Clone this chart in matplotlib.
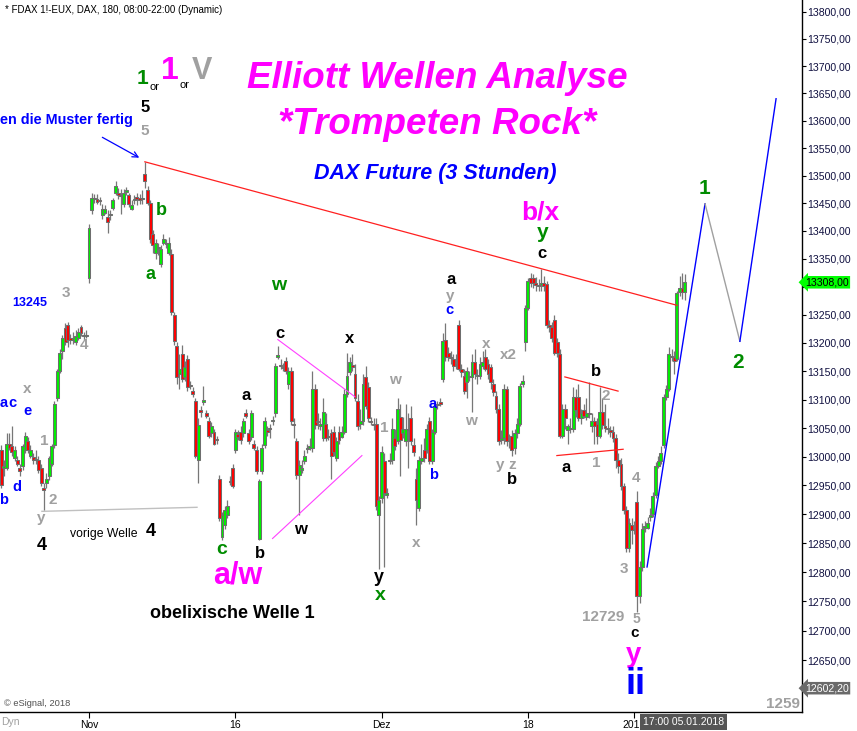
import numpy as np
import matplotlib
matplotlib.use("Agg")
import matplotlib.pyplot as plt
from matplotlib.ticker import FixedLocator, FuncFormatter, NullLocator
from matplotlib.transforms import blended_transform_factory

plt.rcParams['font.family'] = ['Liberation Sans', 'DejaVu Sans']

# FDAX 3h candles (index 1 = first visible bar, late Oct 2017)
opens = [12980, 13011, 12980, 12980, 13023, 13018, 12997, 12994, 12980, 12983,
         13011, 13027, 13002, 12999, 12995, 12994, 12980, 12945, 12954, 12966,
         12988, 13020, 13102, 13150, 13185, 13227, 13232, 13209, 13206, 13201,
         13209, 13229, 13215, 13213, 13316, 13437, 13458, 13458, 13455, 13428,
         13433, 13426, 13428, 13442, 13469, 13469, 13464, 13449, 13471, 13464,
         13440, 13455, 13462, 13460, 13458, 13503, 13473, 13451, 13395, 13361,
         13370, 13341, 13379, 13376, 13361, 13359, 13250, 13194, 13145, 13180,
         13140, 13171, 13126, 13115, 13098, 12994, 13081, 13095, 13076, 13063,
         13041, 13044, 13030, 12962, 12861, 12881, 12898, 12957, 12981, 13011,
         13039, 13044, 13041, 13077, 13041, 13035, 13022, 13011, 12858, 12975,
         13020, 13046, 13049, 13062, 13076, 13175, 13161, 13157, 13168, 13128,
         13150, 13058, 13027, 12968, 12976, 12992, 13013, 13016, 13015, 13119,
         13062, 13053, 13032, 13058, 13035, 13041, 13044, 12997, 13044, 13035,
         13044, 13110, 13149, 13161, 13145, 13098, 13058, 13062, 13140, 13122,
         13062, 13058, 13058, 12898, 12928, 12992, 12933, 12992, 12994, 13032,
         13027, 13070, 13041, 13027, 13049, 13067, 13020, 12962, 12910, 12992,
         13011, 13011, 13062, 12992, 13044, 13091, 13095, 13136, 13206, 13183,
         13176, 13171, 13161, 13232, 13154, 13142, 13131, 13140, 13140, 13166,
         13142, 13142, 13159, 13176, 13163, 13157, 13128, 13107, 13084, 13029,
         13032, 13119, 13027, 13037, 13015, 13041, 13058, 13128, 13201, 13263,
         13316, 13316, 13307, 13304, 13304, 13307, 13305, 13232, 13229, 13241,
         13201, 13180, 13037, 13084, 13046, 13049, 13049, 13105, 13105, 13067,
         13081, 13070, 13076, 13053, 13062, 13058, 13037, 13079, 13053, 13049,
         13046, 13044, 13032, 12994, 12988, 12949, 12907, 12841, 12882, 12872,
         12922, 12759, 12809, 12877, 12877, 12896, 12901, 12933, 12983, 12992,
         13020, 13105, 13119, 13176, 13175, 13171, 13290, 13298, 13290]
highs = [13023, 13020, 12994, 13041, 13041, 13053, 13018, 13001, 12988, 13023,
         13044, 13035, 13020, 13006, 13011, 13001, 12987, 12954, 12971, 13002,
         13022, 13098, 13154, 13189, 13215, 13236, 13237, 13216, 13220, 13223,
         13227, 13232, 13220, 13223, 13412, 13469, 13467, 13466, 13462, 13449,
         13446, 13437, 13437, 13460, 13491, 13478, 13476, 13476, 13480, 13469,
         13455, 13464, 13469, 13467, 13473, 13524, 13482, 13455, 13401, 13386,
         13379, 13374, 13394, 13386, 13390, 13368, 13255, 13201, 13180, 13197,
         13168, 13178, 13133, 13122, 13102, 13067, 13088, 13124, 13081, 13070,
         13060, 13049, 13037, 12968, 12903, 12914, 12924, 12966, 12987, 13049,
         13046, 13053, 13067, 13084, 13049, 13081, 13029, 13018, 12962, 13022,
         13070, 13053, 13058, 13072, 13164, 13194, 13171, 13164, 13175, 13157,
         13157, 13067, 13032, 12994, 12994, 13011, 13023, 13032, 13150, 13128,
         13076, 13067, 13102, 13076, 13049, 13049, 13053, 13035, 13053, 13053,
         13119, 13183, 13175, 13180, 13163, 13110, 13084, 13145, 13159, 13131,
         13069, 13067, 13067, 12931, 13018, 13006, 12945, 13006, 13067, 13049,
         13102, 13093, 13070, 13093, 13076, 13088, 13032, 12980, 13001, 13023,
         13032, 13058, 13070, 13049, 13093, 13098, 13102, 13218, 13236, 13192,
         13185, 13180, 13180, 13241, 13163, 13154, 13157, 13150, 13180, 13189,
         13154, 13175, 13185, 13189, 13171, 13163, 13136, 13115, 13093, 13046,
         13128, 13124, 13039, 13046, 13049, 13067, 13129, 13143, 13267, 13316,
         13325, 13322, 13318, 13314, 13332, 13320, 13311, 13241, 13237, 13250,
         13209, 13189, 13093, 13093, 13058, 13067, 13122, 13119, 13128, 13084,
         13093, 13102, 13131, 13076, 13070, 13067, 13122, 13102, 13093, 13067,
         13053, 13053, 13039, 13006, 12997, 12954, 12914, 12893, 12893, 12889,
         12940, 12820, 12884, 12889, 12896, 12910, 12938, 12990, 13001, 13018,
         13110, 13126, 13192, 13189, 13185, 13293, 13320, 13325, 13322]
lows = [12971, 12945, 12966, 12976, 13011, 13001, 12992, 12983, 12966, 12976,
        13006, 13006, 12997, 12988, 12988, 12971, 12949, 12907, 12945, 12959,
        12983, 13016, 13098, 13147, 13171, 13196, 13192, 13199, 13199, 13196,
        13206, 13213, 13206, 13209, 13307, 13430, 13451, 13448, 13446, 13422,
        13430, 13397, 13419, 13437, 13464, 13458, 13431, 13444, 13464, 13444,
        13437, 13449, 13446, 13449, 13449, 13478, 13446, 13379, 13361, 13350,
        13356, 13336, 13374, 13370, 13356, 13250, 13197, 13128, 13119, 13131,
        13133, 13115, 13119, 13105, 12997, 12954, 13070, 13091, 13067, 13032,
        13035, 13020, 13023, 12888, 12856, 12875, 12893, 12950, 12945, 13006,
        13029, 13023, 13035, 13067, 13022, 13030, 13011, 12969, 12855, 12969,
        13015, 13037, 13032, 13056, 13070, 13171, 13154, 13150, 13145, 13119,
        13056, 13032, 12962, 12898, 12971, 12987, 13006, 13011, 13009, 13049,
        13049, 13046, 13027, 13027, 13029, 12962, 13001, 12992, 13022, 13032,
        13039, 13105, 13143, 13150, 13098, 13046, 13049, 13056, 13084, 13060,
        13055, 13046, 12907, 12806, 12919, 12809, 12928, 12987, 12988, 13011,
        13022, 12966, 13032, 13018, 12980, 13020, 13001, 12881, 12905, 12987,
        12990, 13006, 12987, 12987, 13039, 13084, 13088, 13131, 13168, 13168,
        13163, 13150, 13154, 13150, 13140, 13110, 13102, 13133, 13079, 13136,
        13128, 13136, 13154, 13150, 13136, 13119, 13107, 13077, 13020, 13022,
        13023, 13018, 13015, 13001, 13004, 13032, 13053, 13122, 13185, 13258,
        13300, 13298, 13293, 13293, 13293, 13293, 13227, 13220, 13201, 13178,
        13175, 13032, 13032, 13049, 13023, 13041, 13044, 13070, 13062, 13058,
        13067, 13065, 13067, 13044, 13023, 13022, 13032, 13049, 13044, 13039,
        13035, 13025, 12980, 12971, 12942, 12900, 12835, 12835, 12849, 12865,
        12731, 12748, 12802, 12870, 12874, 12889, 12896, 12928, 12980, 12987,
        13015, 13100, 13115, 13168, 13145, 13168, 13283, 13279, 13276]
closes = [13011, 12950, 12983, 13023, 13016, 13009, 13011, 12988, 12975, 13018,
          13037, 13011, 13011, 12995, 12994, 12976, 12954, 12942, 12962, 12997,
          13018, 13093, 13150, 13183, 13209, 13201, 13206, 13206, 13209, 13213,
          13220, 13218, 13213, 13215, 13406, 13460, 13459, 13453, 13454, 13440,
          13439, 13417, 13431, 13455, 13482, 13464, 13463, 13469, 13473, 13449,
          13446, 13457, 13458, 13455, 13460, 13491, 13451, 13386, 13374, 13379,
          13372, 13368, 13386, 13377, 13379, 13255, 13203, 13140, 13154, 13136,
          13157, 13122, 13124, 13110, 13002, 13055, 13079, 13100, 13072, 13037,
          13053, 13023, 13029, 12893, 12898, 12907, 12915, 12956, 12949, 13044,
          13034, 13029, 13062, 13072, 13027, 13076, 13016, 12975, 12957, 13016,
          13063, 13044, 13048, 13065, 13159, 13178, 13159, 13156, 13150, 13150,
          13062, 13055, 12968, 12985, 12981, 13001, 13015, 13018, 13119, 13055,
          13060, 13058, 13079, 13032, 13037, 13002, 13009, 13027, 13029, 13044,
          13110, 13142, 13166, 13157, 13102, 13053, 13062, 13128, 13089, 13067,
          13060, 13056, 12914, 12924, 13009, 12936, 12936, 12994, 13049, 13018,
          13084, 13029, 13049, 13049, 13046, 13027, 13009, 12924, 12994, 12997,
          12997, 13049, 12992, 13044, 13089, 13093, 13093, 13203, 13175, 13175,
          13173, 13159, 13163, 13154, 13149, 13115, 13150, 13142, 13166, 13145,
          13143, 13163, 13166, 13154, 13145, 13131, 13114, 13084, 13027, 13032,
          13119, 13027, 13030, 13011, 13041, 13058, 13124, 13133, 13263, 13311,
          13307, 13307, 13304, 13302, 13305, 13302, 13232, 13229, 13209, 13183,
          13183, 13037, 13084, 13067, 13053, 13051, 13105, 13081, 13067, 13076,
          13072, 13076, 13074, 13062, 13053, 13037, 13079, 13055, 13051, 13048,
          13044, 13032, 12994, 12983, 12949, 12907, 12841, 12884, 12872, 12875,
          12759, 12809, 12875, 12879, 12884, 12898, 12931, 12983, 12992, 13006,
          13105, 13119, 13180, 13175, 13168, 13288, 13298, 13290, 13308]

# date ticks (bar index, label)
date_pos = [35, 90, 145, 200, 240]
date_labels = ['Nov', '16', 'Dez', '18', '2018']
price_ticks = list(range(12650, 13801, 50))
last_price = 13308.00
low_marker = 12602.20

# drawn lines: (bar index, price)
resist_x, resist_y = [56, 256], [13525, 13267]
tri_up_x, tri_up_y = [106, 135], [13206, 13105]
tri_lo_x, tri_lo_y = [104, 137.6], [12858, 13002]
prev_x, prev_y = [17.3, 75.6], [12905, 12912]
btri_up_x, btri_up_y = [213.9, 233.9], [13140, 13115]
btri_lo_x, btri_lo_y = [210.9, 235.8], [13002, 13013]
proj1_x, proj1_y = [244.8, 266.6], [12809, 13449]
proj2_x, proj2_y = [266.6, 279.7], [13449, 13203]
proj3_x, proj3_y = [279.7, 293.3], [13203, 13640]

W, H = 857, 731
fig = plt.figure(figsize=(W / 100, H / 100), dpi=100)
ax = fig.add_axes([0, 19 / H, 802 / W, 712 / H])
ax.set_yscale('log')
ax.set_ylim(12562, 13822)
ax.set_xlim(1.54, 303.05)

x = np.arange(1, len(opens) + 1)
o = np.array(opens); c = np.array(closes)
h = np.array(highs); l = np.array(lows)
up = c >= o
ax.vlines(x, l, h, color='#777777', lw=0.9, zorder=2)
bottom = np.minimum(o, c)
height = np.maximum(np.abs(c - o), 2.0)
ax.bar(x, height, bottom=bottom, width=1.1,
       color=np.where(up, '#00f000', '#ff0000'),
       edgecolor='#6e6e6e', linewidth=0.75, zorder=3)

ax.plot(resist_x, resist_y, color='#ff2020', lw=0.9, zorder=4)
ax.plot(tri_up_x, tri_up_y, color='#ff40ff', lw=0.8, zorder=4)
ax.plot(tri_lo_x, tri_lo_y, color='#ff40ff', lw=0.8, zorder=4)
ax.plot(prev_x, prev_y, color='#c0c0c0', lw=1.0, zorder=1)
ax.plot(btri_up_x, btri_up_y, color='#ff2020', lw=0.9, zorder=4)
ax.plot(btri_lo_x, btri_lo_y, color='#ff2020', lw=0.9, zorder=4)
ax.plot(proj1_x, proj1_y, color='#0000ff', lw=1.0, zorder=4)
ax.plot(proj2_x, proj2_y, color='#a0a0a0', lw=1.0, zorder=4)
ax.plot(proj3_x, proj3_y, color='#0000ff', lw=1.0, zorder=4)
ax.annotate('', xy=(54.8, 13530), xytext=(39.1, 13572),
            arrowprops=dict(arrowstyle='->', color='#0000ff', lw=0.9))

for s in ['left', 'top']:
    ax.spines[s].set_visible(False)
for s in ['right', 'bottom']:
    ax.spines[s].set_linewidth(1.0)
    ax.spines[s].set_color('black')


def price_fmt(v, p):
    # the 13300 label sits under the last-price box
    if abs(v - 13300) < 1:
        return ''
    return f'{v:.2f}'.replace('.', ',')


ax.yaxis.tick_right()
ax.yaxis.set_major_locator(FixedLocator(price_ticks))
ax.yaxis.set_minor_locator(NullLocator())
ax.yaxis.set_major_formatter(FuncFormatter(price_fmt))
ax.tick_params(axis='y', direction='out', length=3, width=0.8, pad=1,
               labelsize=7.6, labelcolor='#101040')
ax.set_xticks(date_pos)
ax.set_xticklabels(date_labels)
ax.tick_params(axis='x', direction='out', length=4, width=0.8, pad=2, labelsize=7.5)

tr = blended_transform_factory(ax.transAxes, ax.transData)
ax.text(1.004, last_price, f'{last_price:.2f}'.replace('.', ','), transform=tr,
        va='center', ha='left', fontsize=7.6, color='black',
        bbox=dict(boxstyle='larrow,pad=0.12', fc='#00ff00', ec='none'),
        zorder=10, clip_on=False)
ax.text(1.004, low_marker, f'{low_marker:.2f}'.replace('.', ','), transform=tr,
        va='center', ha='left', fontsize=7.6, color='white',
        bbox=dict(boxstyle='larrow,pad=0.12', fc='#6a6a6a', ec='none'),
        zorder=10, clip_on=False)


def label(px, py, s, color, size, weight='bold', style='normal', ha='center'):
    fig.text(px / W, 1 - py / H, s, color=color, fontsize=size, fontweight=weight,
             fontstyle=style, ha=ha, va='center')


GREEN = '#008c00'
GRAY = '#a0a0a0'
BLUE = '#0000ff'
MAG = '#ff00ff'
BLK = 'black'

label(5, 10, '* FDAX 1!-EUX, DAX, 180, 08:00-22:00 (Dynamic)', BLK, 7, weight='normal', ha='left')
label(437, 78, 'Elliott Wellen Analyse', MAG, 26.5, style='italic')
label(437, 125, '*Trompeten Rock*', MAG, 26.5, style='italic')
label(435, 174, 'DAX Future (3 Stunden)', BLUE, 15.5, style='italic')

label(142, 79, '1', GREEN, 15)
label(155, 87, 'or', BLK, 8, weight='normal')
label(170, 71, '1', MAG, 23)
label(185, 85, 'or', BLK, 8, weight='normal')
label(202, 71, 'V', GRAY, 22)
label(145, 108, '5', BLK, 12)
label(145, 131, '5', GRAY, 11)
label(133, 120, 'en die Muster fertig', BLUE, 10.4, ha='right')

wave_labels = [
    (161, 210, 'b', GREEN, 13), (150, 274, 'a', GREEN, 13),
    (66, 293, '3', GRAY, 11), (84, 345, '4', GRAY, 11),
    (27, 389, 'x', GRAY, 11), (12, 403, 'c', BLUE, 10.5), (4, 403, 'a', BLUE, 10.5),
    (27, 411, 'e', BLUE, 10.5), (44, 441, '1', GRAY, 11), (17, 487, 'd', BLUE, 10.5),
    (4, 500, 'b', BLUE, 10.5), (53, 500, '2', GRAY, 11), (41, 518, 'y', GRAY, 11),
    (42, 545, '4', BLK, 13), (151, 531, '4', BLK, 13),
    (222, 550, 'c', GREEN, 14), (238, 575, 'a/w', MAG, 22),
    (246, 395, 'a', BLK, 12), (260, 553, 'b', BLK, 12),
    (279, 285, 'w', GREEN, 14), (280, 333, 'c', BLK, 12), (350, 338, 'x', BLK, 12),
    (300, 530, 'w', BLK, 12), (395, 380, 'w', GRAY, 11), (384, 428, '1', GRAY, 11),
    (416, 543, 'x', GRAY, 11), (379, 577, 'y', BLK, 13), (380, 596, 'x', GREEN, 14),
    (433, 404, 'a', BLUE, 10.5), (434, 475, 'b', BLUE, 10.5),
    (451, 280, 'a', BLK, 12), (450, 296, 'y', GRAY, 11), (449, 310, 'c', BLUE, 10.5),
    (486, 344, 'x', GRAY, 11), (508, 355, 'x2', GRAY, 11), (471, 421, 'w', GRAY, 11),
    (500, 465, 'y', GRAY, 11), (512, 465, 'z', GRAY, 11), (512, 480, 'b', BLK, 12),
    (540, 212, 'b/x', MAG, 19), (543, 233, 'y', GREEN, 15), (542, 253, 'c', BLK, 12),
    (596, 371, 'b', BLK, 12), (606, 396, '2', GRAY, 11), (566, 467, 'a', BLK, 12),
    (596, 463, '1', GRAY, 11), (636, 478, '4', GRAY, 11), (624, 569, '3', GRAY, 11),
    (603, 617, '12729', GRAY, 11), (636, 619, '5', GRAY, 10), (635, 633, 'c', BLK, 11),
    (634, 655, 'y', MAG, 20), (636, 685, 'ii', BLUE, 26),
    (705, 188, '1', GREEN, 15), (738, 362, '2', GREEN, 15),
    (30, 303, '13245', BLUE, 9),
]
for px, py, s, col, sz in wave_labels:
    label(px, py, s, col, sz)

label(104, 534, 'vorige Welle', BLK, 8.8, weight='normal')
label(232, 614, 'obelixische Welle 1', BLK, 13)
label(4, 703, '\u00a9 eSignal, 2018', '#505050', 6.7, weight='normal', ha='left')
label(783, 704, '1259', GRAY, 11)
label(1, 722, 'Dyn', GRAY, 7.5, weight='normal', ha='left')
fig.text(643 / W, 1 - 722 / H, '17:00 05.01.2018', color='white', fontsize=7.5,
         ha='left', va='center',
         bbox=dict(boxstyle='square,pad=0.3', fc='#555555', ec='none'))

fig.savefig('out.png', dpi=100)
